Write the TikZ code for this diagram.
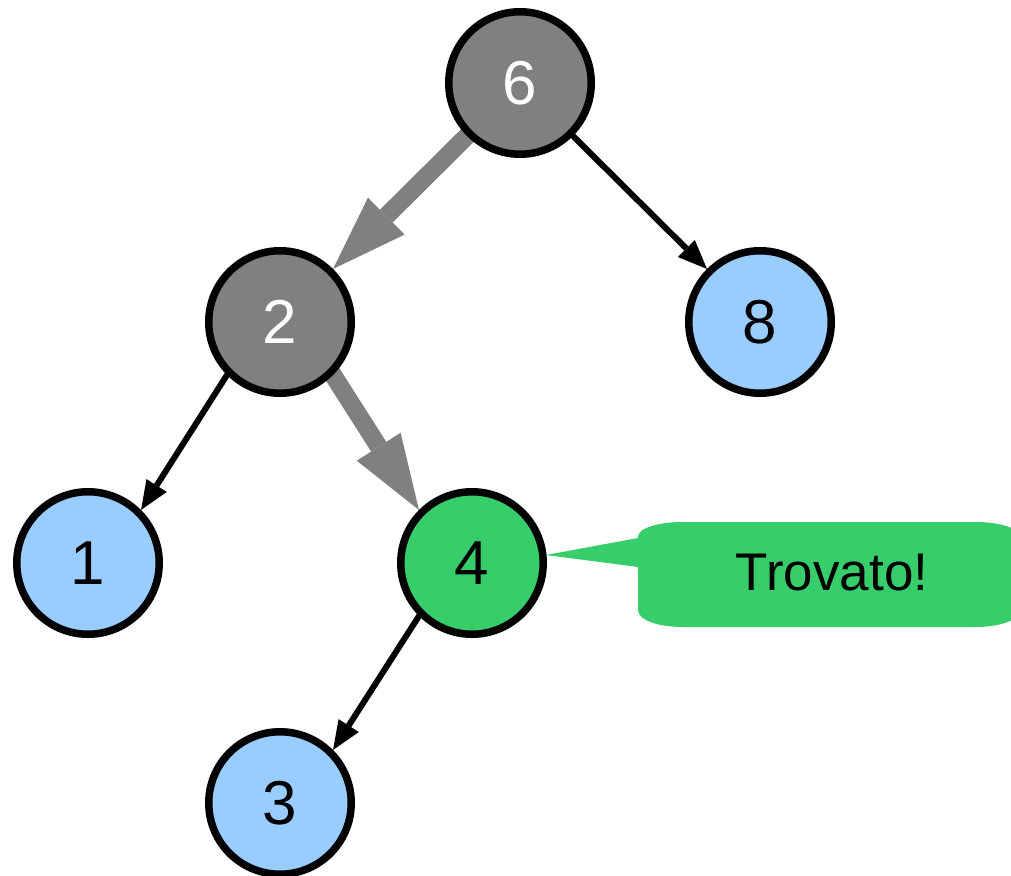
\documentclass[tikz,border=0pt]{standalone}
\usepackage{fontspec}
\setmainfont{Liberation Sans}
\usetikzlibrary{arrows.meta,backgrounds}
\definecolor{nodegray}{RGB}{128,128,128}
\definecolor{leafblue}{RGB}{153,204,255}
\definecolor{foundgreen}{RGB}{54,205,106}
\begin{document}
\begin{tikzpicture}[x=1pt,y=-1pt,
  treenode/.style={circle,draw=black,line width=7.5pt,minimum size=142.5pt,inner sep=0pt,font=\fontsize{62}{62}\selectfont},
  graynode/.style={treenode,fill=nodegray,text=white},
  leaf/.style={treenode,fill=leafblue,text=black},
  found/.style={treenode,fill=foundgreen,text=black},
  patharrow/.style={draw=nodegray,line width=18pt,-{Triangle[length=75pt,width=52pt,line width=0pt]},shorten <=-10pt},
  plainarrow/.style={draw=black,line width=6pt,-{Triangle[length=29pt,width=24pt,line width=0pt]},shorten <=-6pt},
  calloutshape/.style={fill=foundgreen},
  callouttext/.style={inner sep=0pt,font=\fontsize{53}{53}\selectfont,text=black}]
\useasboundingbox (0,0) rectangle (1011,875);
\clip (0,0) rectangle (1011,875);
% callout
\fill[calloutshape] (546,555) -- (638,538) -- (638,537)
  .. controls (638,528) and (658,522) .. (683,522) -- (975,522)
  .. controls (1000,522) and (1020,528) .. (1020,538) -- (1020,610)
  .. controls (1020,620) and (1000,627) .. (975,627) -- (683,627)
  .. controls (658,627) and (638,620) .. (638,610) -- (638,567) -- cycle;
\node[callouttext] (trovato) at (832,573) {Trovato!};
% nodes
\node[graynode] (n6) at (520,83) {6};
\node[graynode] (n2) at (280,322) {2};
\node[leaf] (n8) at (760,322) {8};
\node[leaf] (n1) at (88,563) {1};
\node[found] (n4) at (472,563) {4};
\node[leaf] (n3) at (280,803) {3};
% edges
\begin{scope}[on background layer]
\draw[patharrow] (n6.south west) -- (n2.north east);
\draw[patharrow] (n2.south east) -- (n4.north west);
\draw[plainarrow] (n6.south east) -- (n8.north west);
\draw[plainarrow] (n2.south west) -- (n1.north east);
\draw[plainarrow] (n4.south west) -- (n3.north east);
\end{scope}
\end{tikzpicture}
\end{document}
